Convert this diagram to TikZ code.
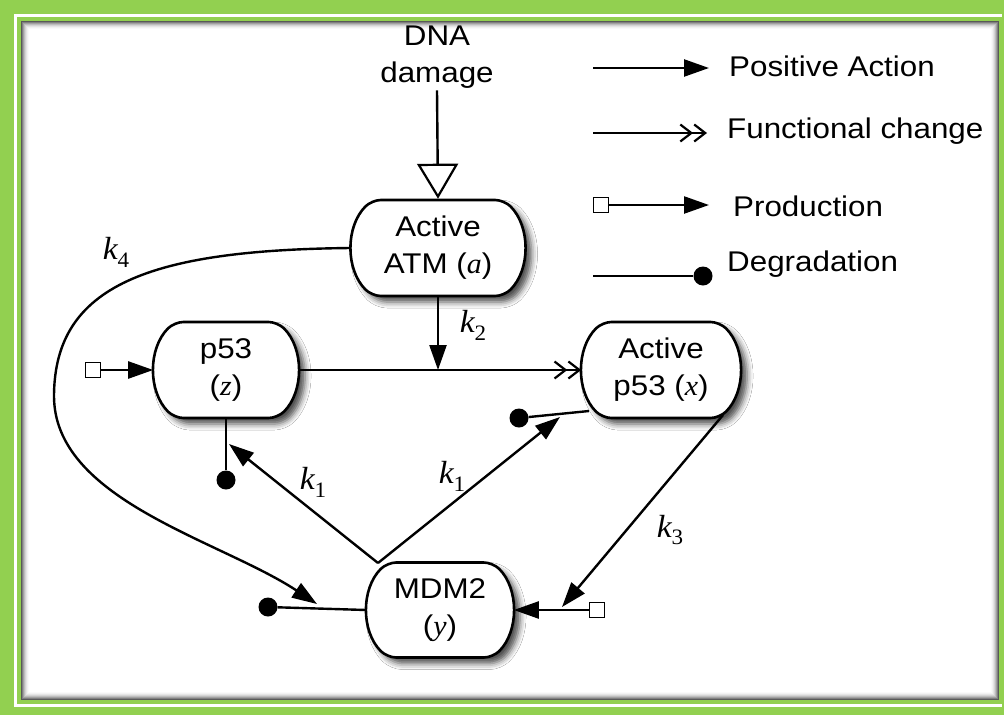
\documentclass[tikz,border=0pt]{standalone}
\usepackage{fontspec}
\setmainfont{Liberation Sans}[FakeStretch=1.1]
\newfontfamily\serifit{Liberation Serif}[FakeStretch=1.05]
\usetikzlibrary{arrows.meta,shapes.misc,shadows.blur}
\definecolor{framegreen}{RGB}{146,208,80}
\newcommand{\kk}[1]{{\fontsize{32}{32}\selectfont\serifit\itshape k}\raisebox{-0.28em}{\fontsize{22}{22}\selectfont\serifit #1}}
\begin{document}
\begin{tikzpicture}[x=1pt,y=-1pt,
  every node/.style={font=\fontsize{28.5}{37}\selectfont},
  box/.style={rounded rectangle, rounded rectangle arc length=90, rounded corners=9pt, draw, line width=2.6pt,
    fill=white, minimum height=96pt, align=center, inner sep=0pt,
    blur shadow={shadow xshift=6pt, shadow yshift=-6pt, shadow blur radius=6pt, shadow opacity=70}},
  conn/.style={line width=2.4pt},
  pa/.style={conn, -{Triangle[length=25pt,width=17pt]}},
  fc/.style={conn, -{Straight Barb[length=11pt,width=17pt,line width=2.2pt] Straight Barb[length=11pt,width=17pt,line width=2.2pt]}},
  sq/.style={draw, line width=1.8pt, fill=white, minimum size=15pt, inner sep=0pt},
  dot/.style={circle, fill=black, minimum size=19pt, inner sep=0pt},
  lbl/.style={anchor=west, inner sep=0pt}
]
\useasboundingbox (0,0) rectangle (1004,715);
% frame
\fill[framegreen] (0,0) rectangle (1004,715);
\fill[white] (14,14) rectangle (1002,707);
\fill[framegreen] (17,17) rectangle (1002,704);
\fill[white] (21,21) rectangle (999,700);
\foreach \i/\c in {0/65,1/50,2/37,3/26,4/17,5/10,6/5,7/2}
  \draw[line width=1pt, black!\c] (21.5+\i,21.5+\i) rectangle (998.5-\i,699.5-\i);

% nodes
\node[align=center, inner sep=2pt] (dna) at (437,57) {DNA\\damage};
\node[box, minimum width=172pt] (atm) at (438,248) {Active\\ATM ({\serifit\itshape a})};
\node[box, minimum width=143pt] (z) at (226,370) {p53\\({\serifit\itshape z})};
\node[box, minimum width=157pt] (x) at (661,370) {Active\\p53 ({\serifit\itshape x})};
\node[box, minimum width=145pt, minimum height=95pt] (y) at (440,610) {MDM2\\({\serifit\itshape y})};

% production squares and degradation dots
\node[sq] (pz) at (93,370) {};
\node[sq] (py) at (597,610) {};
\node[dot] (dz) at (226,480) {};
\node[dot] (dx) at (519,418) {};
\node[dot] (dy) at (268,607) {};

% coordinates
\coordinate (j1) at (438,370);
\coordinate (ytop) at (378,563);
\coordinate (kz) at (229,444);
\coordinate (kx) at (560,417);
\coordinate (xl) at (589,411);
\coordinate (xbr) at (723,415);
\coordinate (ky) at (562,607);
\coordinate (k4end) at (317,604);

% connectors
\draw[conn, -{Triangle[open,length=35pt,width=41pt,line width=2.2pt]}] (dna.south) -- (atm.north);
\draw[pa] (atm.south) -- (j1);
\draw[fc] (z.east) -- (x.west);
\draw[pa] (pz) -- (z.west);
\draw[conn] (z.south) -- (dz);
\draw[pa] (ytop) -- (kz);
\draw[pa] (ytop) -- (kx);
\draw[conn] (xl) -- (dx);
\draw[pa] (xbr) -- (ky);
\draw[pa] (py) -- (y.east);
\draw[conn] (y.west) -- (dy);
\draw[pa] (atm.west) .. controls (150,250) and (55,285) .. (54,395)
   .. controls (53,500) and (220,540) .. (k4end);

% rate labels
\node (k2) at (473,325) {\kk{2}};
\node (k1a) at (313,482) {\kk{1}};
\node (k1b) at (452,476) {\kk{1}};
\node (k3) at (670,530) {\kk{3}};
\node (k4) at (116,252) {\kk{4}};

% legend
\coordinate (a1) at (593,68);  \coordinate (a2) at (709,68);
\coordinate (f1) at (593,133); \coordinate (f2) at (707,133);
\node[sq] (ps) at (601,205) {}; \coordinate (p2) at (709,205);
\coordinate (d1) at (593,276); \node[dot] (dl) at (703,276) {};
\draw[pa] (a1) -- (a2);
\draw[fc] (f1) -- (f2);
\draw[pa] (ps) -- (p2);
\draw[conn] (d1) -- (dl);
\node[lbl] (t1) at (729,66) {Positive Action};
\node[lbl] (t2) at (727,131) {Functional change};
\node[lbl] (t3) at (733,206) {Production};
\node[lbl] (t4) at (727,264) {Degradation};
\end{tikzpicture}
\end{document}
